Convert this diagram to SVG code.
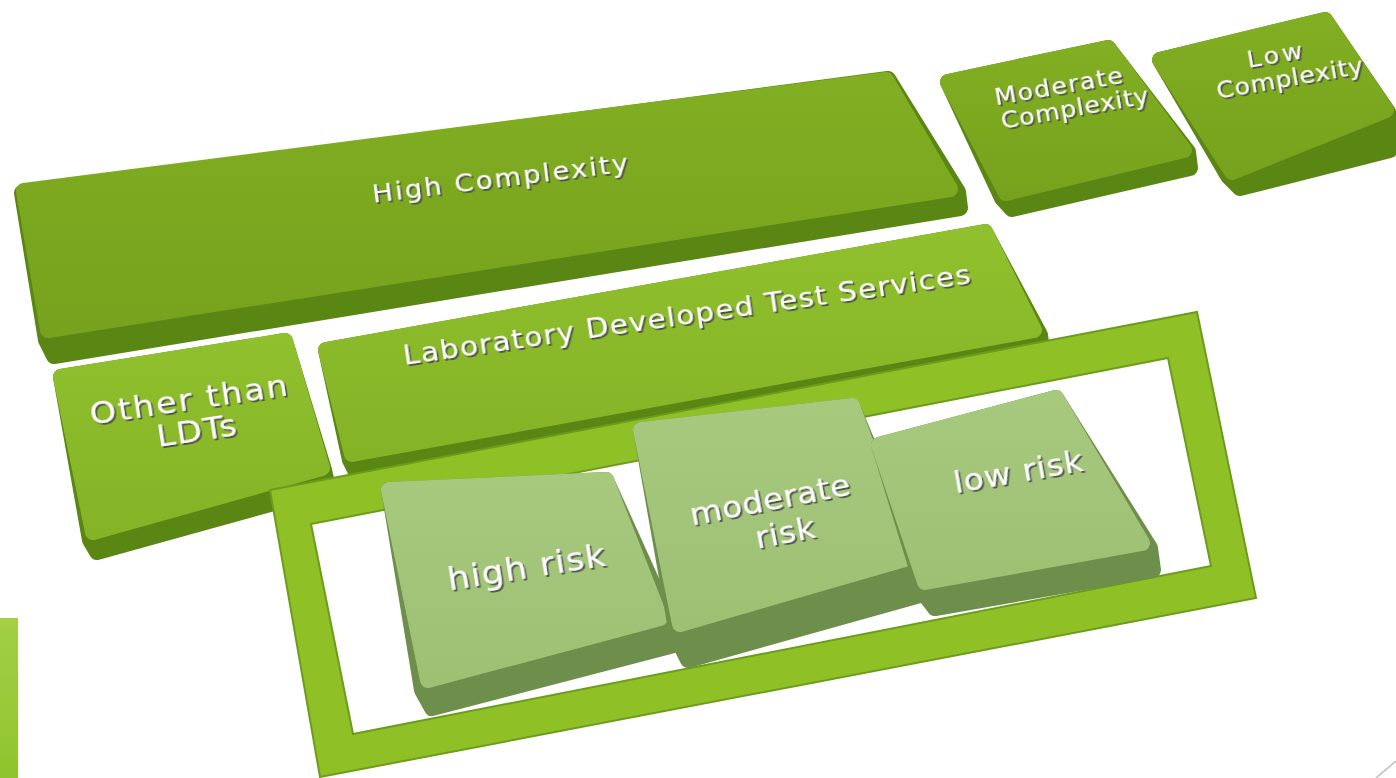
<svg xmlns="http://www.w3.org/2000/svg" width="1396" height="778" viewBox="0 0 1396 778">
<defs>
<linearGradient id="gTop" x1="0" y1="0" x2="0" y2="1">
<stop offset="0" stop-color="#82ae23"/><stop offset="1" stop-color="#76a21d"/>
</linearGradient>
<linearGradient id="gBright" x1="0" y1="0" x2="0" y2="1">
<stop offset="0" stop-color="#90c02d"/><stop offset="1" stop-color="#84b326"/>
</linearGradient>
<linearGradient id="gRisk" x1="0" y1="0" x2="0" y2="1">
<stop offset="0" stop-color="#a7c97e"/><stop offset="1" stop-color="#9dc073"/>
</linearGradient>
<linearGradient id="gBar" x1="0" y1="0" x2="0" y2="1">
<stop offset="0" stop-color="#a3d046"/><stop offset="1" stop-color="#8fc42e"/>
</linearGradient>
<filter id="sh" x="-10%" y="-30%" width="120%" height="160%">
<feDropShadow dx="1.5" dy="2" stdDeviation="0.6" flood-color="#4a4a4a" flood-opacity="0.9"/>
</filter>
</defs>
<style>
.side{fill:#5a8614;stroke:#5a8614;stroke-width:16;stroke-linejoin:round}
.top{fill:url(#gTop);stroke:url(#gTop);stroke-width:16;stroke-linejoin:round}
.topb{fill:url(#gBright);stroke:url(#gBright);stroke-width:16;stroke-linejoin:round}
.rside{fill:#6e8f4c;stroke:#6e8f4c;stroke-width:16;stroke-linejoin:round}
.rtop{fill:url(#gRisk);stroke:url(#gRisk);stroke-width:16;stroke-linejoin:round}
.t{font-family:"DejaVu Sans",Verdana,sans-serif;fill:#ffffff;text-anchor:middle;filter:url(#sh)}
.frame{fill:#8fc127;fill-rule:evenodd;stroke:#6d9c1c;stroke-width:2}
</style>
<rect x="0" y="0" width="1396" height="778" fill="#ffffff"/>
<rect x="0" y="618" width="18" height="160" fill="url(#gBar)"/>
<line x1="1376" y1="778" x2="1396" y2="761" stroke="#bdbdbd" stroke-width="1.5"/>

<g id="high-complexity">
<polygon class="side" points="22,193 888,79 958,192 960,208 54,356 46,340"/>
<polygon class="top" points="24,191 886,80 950,189 48,330"/>
<text class="t" font-size="25" textLength="234" lengthAdjust="spacing" transform="translate(501,187) rotate(-7) scale(1.1,1)">High Complexity</text>
</g>

<g id="lab-developed">
<polygon class="side" points="326,350 985,232 1040,335 1042,350 356,472 350,460"/>
<polygon class="topb" points="326,350 985,232 1034,330 352,454"/>
<text class="t" font-size="27" textLength="521" lengthAdjust="spacing" transform="translate(688,324) rotate(-8.2) scale(1.1,1)">Laboratory Developed Test Services</text>
</g>

<g id="other-than-ldts">
<polygon class="side" points="61,377 285,341 324,470 328,488 97,552 90,540"/>
<polygon class="topb" points="61,377 285,341 322,468 93,532"/>
<text class="t" font-size="30" textLength="178" lengthAdjust="spacing" transform="translate(190,410) rotate(-8.5) scale(1.12,1)">Other than</text>
<text class="t" font-size="30" textLength="72" lengthAdjust="spacing" transform="translate(198,441) rotate(-8.5) scale(1.12,1)">LDTs</text>
</g>

<g id="moderate-complexity">
<polygon class="side" points="948,82 1108,48 1188,152 1190,168 1012,209 1002,198"/>
<polygon class="top" points="948,82 1108,48 1184,150 1006,193"/>
<text class="t" font-size="23" textLength="118" lengthAdjust="spacing" transform="translate(1060,94) rotate(-10) scale(1.1,1)">Moderate</text>
<text class="t" font-size="23" textLength="136" lengthAdjust="spacing" transform="translate(1076,116) rotate(-10) scale(1.1,1)">Complexity</text>
</g>

<g id="low-complexity">
<polygon class="side" points="1160,60 1325,20 1388,112 1390,150 1240,188 1228,176"/>
<polygon class="top" points="1160,60 1325,20 1386,110 1232,172"/>
<text class="t" font-size="23" textLength="51" lengthAdjust="spacing" transform="translate(1276,63) rotate(-10) scale(1.1,1)">Low</text>
<text class="t" font-size="23" textLength="135" lengthAdjust="spacing" transform="translate(1291,86) rotate(-10) scale(1.1,1)">Complexity</text>
</g>

<g id="risk-frame">
<path class="frame" d="M270,490 L1197,312 L1256,598 L320,777 Z M311,524 L1168,358 L1211,566 L353,734 Z"/>
</g>

<g id="high-risk">
<polygon class="rside" points="389,490 606,480 670,622 674,645 432,708 422,690"/>
<polygon class="rtop" points="389,490 606,480 660,618 428,680"/>
<text class="t" font-size="32" textLength="145" lengthAdjust="spacing" transform="translate(528,578) rotate(-9) scale(1.1,1)">high risk</text>
</g>

<g id="moderate-risk">
<polygon class="rside" points="641,430 852,406 918,565 920,595 688,660 678,640"/>
<polygon class="rtop" points="641,430 852,406 908,558 680,624"/>
<text class="t" font-size="30" textLength="148" lengthAdjust="spacing" transform="translate(772,510) rotate(-11) scale(1.1,1)">moderate</text>
<text class="t" font-size="30" textLength="55" lengthAdjust="spacing" transform="translate(787,543) rotate(-11) scale(1.1,1)">risk</text>
</g>

<g id="low-risk">
<polygon class="rside" points="879,445 1056,398 1150,548 1153,570 935,608 925,595"/>
<polygon class="rtop" points="879,445 1056,398 1142,543 925,582"/>
<text class="t" font-size="30" textLength="119" lengthAdjust="spacing" transform="translate(1020,482) rotate(-10) scale(1.1,1)">low risk</text>
</g>

<g id="connectors"></g>
</svg>
